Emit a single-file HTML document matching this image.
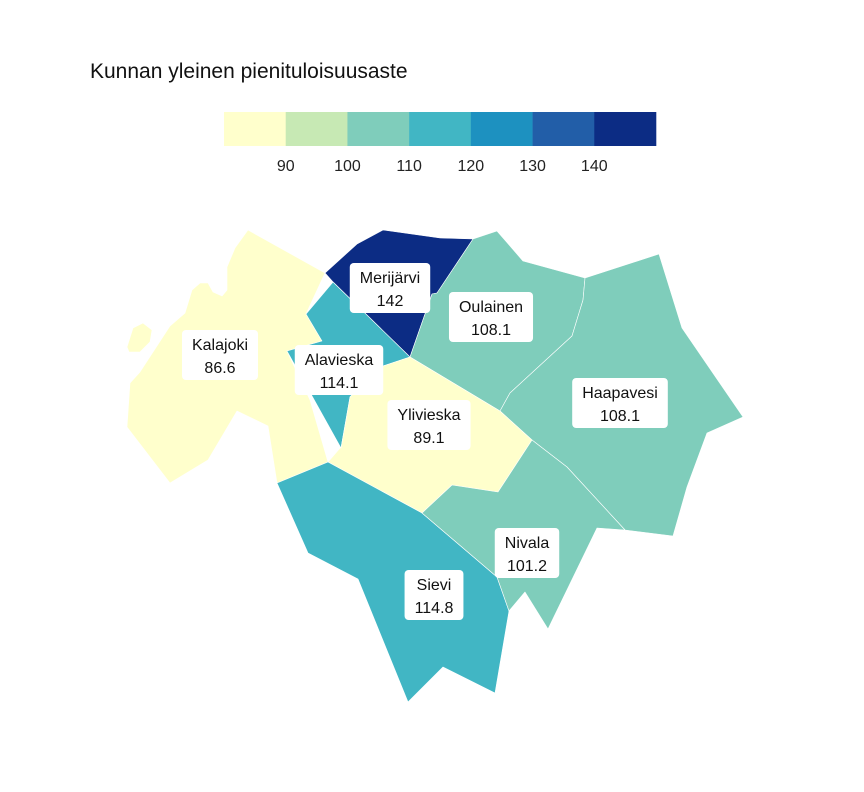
<!DOCTYPE html>
<html><head><meta charset="utf-8"><style>
body{margin:0;background:#fff;}
svg{display:block;font-family:"Liberation Sans",sans-serif;}
</style></head><body>
<svg id="chart" width="864" height="792">
<text x="90" y="78" font-size="21" fill="#111">Kunnan yleinen pienituloisuusaste</text>
<g id="legend"></g>
<g id="regions"></g>
<g id="labels"></g>
</svg>
<script>
const names=["Kalajoki","Merijärvi","Alavieska","Oulainen","Haapavesi","Ylivieska","Sievi","Nivala"];
const values=[86.6,142,114.1,108.1,108.1,89.1,114.8,101.2];
const breaks=[90,100,110,120,130,140];
const colors=["#ffffcc","#c7e9b4","#7fcdbb","#41b6c4","#1d91c0","#225ea8","#0c2c84"];
const shapes={
"Kalajoki":["248,230 325,273 306,314 322,341 287,351 310,400 328,462 277,483 268,426 237,411 208,460 170,483 127,427 130,383 140,372 170,326 185,313 192,290 200,283 208,283 213,292 222,296 227,290 227,267 235,248","127,347 133,328 143,323 152,330 150,342 140,352 129,352"],
"Merijärvi":["325,273 357,244 383,230 440,238 473,239 437,293 432,294 410,357 333,282"],
"Alavieska":["333,282 410,357 380,367 350,397 341,448 287,351 322,341 306,314"],
"Oulainen":["473,239 497,231 523,261 585,278 583,300 572,336 510,393 500,411 410,357 432,294 437,293"],
"Haapavesi":["585,278 659,254 682,328 743,417 707,433 687,487 673,536 625,530 567,467 532,440 500,411 510,393 572,336 583,300"],
"Ylivieska":["410,357 500,411 532,440 498,492 452,485 422,513 328,462 340,448 341,448 350,397 380,367"],
"Sievi":["277,483 328,462 422,513 497,577 509,611 495,693 443,667 408,702 358,579 308,553"],
"Nivala":["422,513 452,485 498,492 532,440 567,467 625,530 597,528 548,629 525,592 509,611 497,577"]
};
const labelPos={"Kalajoki":[220,355],"Merijärvi":[390,288],"Alavieska":[339,370],"Oulainen":[491,317],"Haapavesi":[620,403],"Ylivieska":[429,425],"Sievi":[434,595],"Nivala":[527,553]};
const NS="http://www.w3.org/2000/svg";
function colorFor(v){let i=0;while(i<breaks.length&&v>=breaks[i])i++;return colors[i];}
function mk(t,a,p){const e=document.createElementNS(NS,t);for(const k in a)e.setAttribute(k,a[k]);p.appendChild(e);return e;}
const lg=document.getElementById('legend');
const lx0=224,lw=432/colors.length;
colors.forEach((c,i)=>{
 const r=mk('rect',{x:lx0+i*lw,y:112,width:lw+0.3,height:34,fill:c},lg);
 
 
});
breaks.forEach((b,i)=>{
 const t=mk('text',{x:lx0+(i+1)*lw,y:171,'font-size':16,'text-anchor':'middle',fill:'#222'},lg);
 t.textContent=b;
 
 
});
const rg=document.getElementById('regions');
names.forEach((n,i)=>{
 shapes[n].forEach(pts=>{
  const p=mk('polygon',{points:pts,fill:colorFor(values[i]),stroke:'#ffffff','stroke-width':0.6,'stroke-linejoin':'round'},rg);
  
  
 });
});
const lb=document.getElementById('labels');
names.forEach((n,i)=>{
 const [cx,cy]=labelPos[n];
 const g=mk('g',{},lb);
 
 
 const r=mk('rect',{x:cx,y:cy-25,width:10,height:50,rx:4,fill:'#fff'},g);
 const t1=mk('text',{x:cx,y:cy-5,'font-size':16,'text-anchor':'middle',fill:'#111'},g);t1.textContent=n;
 const t2=mk('text',{x:cx,y:cy+18,'font-size':16,'text-anchor':'middle',fill:'#111'},g);t2.textContent=values[i];
 const w=Math.max(t1.getComputedTextLength(),t2.getComputedTextLength())+20;
 r.setAttribute('x',cx-w/2);
 r.setAttribute('width',w);
});
</script>
</body></html>
